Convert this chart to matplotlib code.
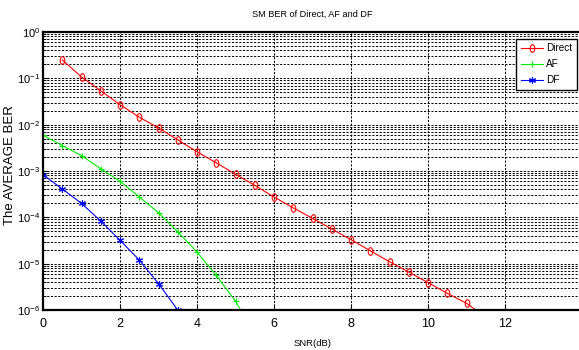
import matplotlib
matplotlib.use("Agg")
import matplotlib.pyplot as plt
from matplotlib.path import Path
from matplotlib.transforms import Affine2D
from matplotlib.ticker import NullFormatter, FixedLocator, LogFormatterSciNotation

plt.rcParams['font.family'] = ['Liberation Sans', 'DejaVu Sans']
plt.rcParams['mathtext.fontset'] = 'custom'
plt.rcParams['mathtext.rm'] = 'Liberation Sans'
plt.rcParams['mathtext.it'] = 'Liberation Sans'

# ---- data ----
snr_direct = [0.5, 1, 1.5, 2, 2.5, 3, 3.5, 4, 4.5, 5, 5.5, 6, 6.5, 7, 7.5, 8,
              8.5, 9, 9.5, 10, 10.5, 11, 11.5]
ber_direct = [2.5e-1, 1.07e-1, 5.4e-2, 2.7e-2, 1.45e-2, 8.5e-3, 4.7e-3, 2.6e-3,
              1.5e-3, 8.5e-4, 4.9e-4, 2.75e-4, 1.6e-4, 9.5e-5, 5.6e-5, 3.3e-5,
              1.9e-5, 1.1e-5, 6.6e-6, 3.9e-6, 2.3e-6, 1.4e-6, 7.0e-7]
snr_af = [0, 0.5, 1, 1.5, 2, 2.5, 3, 3.5, 4, 4.5, 5, 5.5]
ber_af = [5.9e-3, 3.55e-3, 2.15e-3, 1.12e-3, 6.0e-4, 2.75e-4, 1.26e-4, 4.9e-5,
          1.78e-5, 5.6e-6, 1.55e-6, 3.0e-7]
snr_df = [0, 0.5, 1, 1.5, 2, 2.5, 3, 3.5]
ber_df = [8.3e-4, 4.1e-4, 2.0e-4, 8.3e-5, 3.2e-5, 1.2e-5, 3.7e-6, 1.0e-6]
series_labels = ['Direct', 'AF', 'DF']
x_ticks = [0, 2, 4, 6, 8, 10, 12]
y_ticks = [1e-6, 1e-5, 1e-4, 1e-3, 1e-2, 1e-1, 1e0]

fig = plt.figure(figsize=(5.79, 3.5), dpi=100)
ax = fig.add_axes([43/579, 1 - 310/350, 539/579, (310 - 32)/350])

ellipse = Path.unit_circle().transformed(Affine2D().scale(0.6, 1.0))

ax.plot(snr_direct, ber_direct, color='red', lw=0.8, marker=ellipse, ms=5.5,
        mfc='none', mec='red', mew=0.8, label=series_labels[0])
ax.plot(snr_af, ber_af, color='#00ee00', lw=0.8, marker='+', ms=5,
        mew=0.8, label=series_labels[1])
ax.plot(snr_df, ber_df, color='blue', lw=0.8, marker=(6, 2, 0), ms=5,
        mew=0.8, label=series_labels[2])

ax.set_yscale('log')
ax.set_xlim(0, 14)
ax.set_ylim(1e-6, 1)
ax.xaxis.set_major_locator(FixedLocator(x_ticks))
ax.yaxis.set_major_locator(FixedLocator(y_ticks))
ax.yaxis.set_major_formatter(LogFormatterSciNotation())
minor = [m * t for t in y_ticks[:-1] for m in range(2, 10)]
ax.yaxis.set_minor_locator(FixedLocator(minor))
ax.yaxis.set_minor_formatter(NullFormatter())

grid_style = dict(color='black', linestyle=(0, (2.2, 1.6)), linewidth=0.7)
ax.grid(True, which='major', axis='both', **grid_style)
ax.grid(True, which='minor', axis='y', **grid_style)

ax.tick_params(which='both', direction='in', color='black')
ax.tick_params(axis='y', labelsize=8, pad=2)
ax.tick_params(axis='x', labelsize=9, pad=6)
ax.tick_params(which='major', length=4)
ax.tick_params(which='minor', length=2)
for s in ax.spines.values():
    s.set_linewidth(1.6)
    s.set_color('black')

ax.set_title('SM BER of Direct, AF and DF', fontsize=6.6, pad=11)
ax.set_xlabel('SNR(dB)', fontsize=6.8, labelpad=6)
ax.set_ylabel('The AVERAGE BER', fontsize=9.5)
ax.yaxis.set_label_coords(-0.05, 0.52)

leg = ax.legend(loc='upper right', bbox_to_anchor=(0.99, 0.975),
                prop={'size': 7.2},
                fancybox=False, framealpha=1, edgecolor='black',
                handlelength=2.2, handletextpad=0.3, borderpad=0.45,
                labelspacing=0.6, borderaxespad=0)
leg.get_frame().set_linewidth(1.0)

fig.savefig('out.png', dpi=100)
